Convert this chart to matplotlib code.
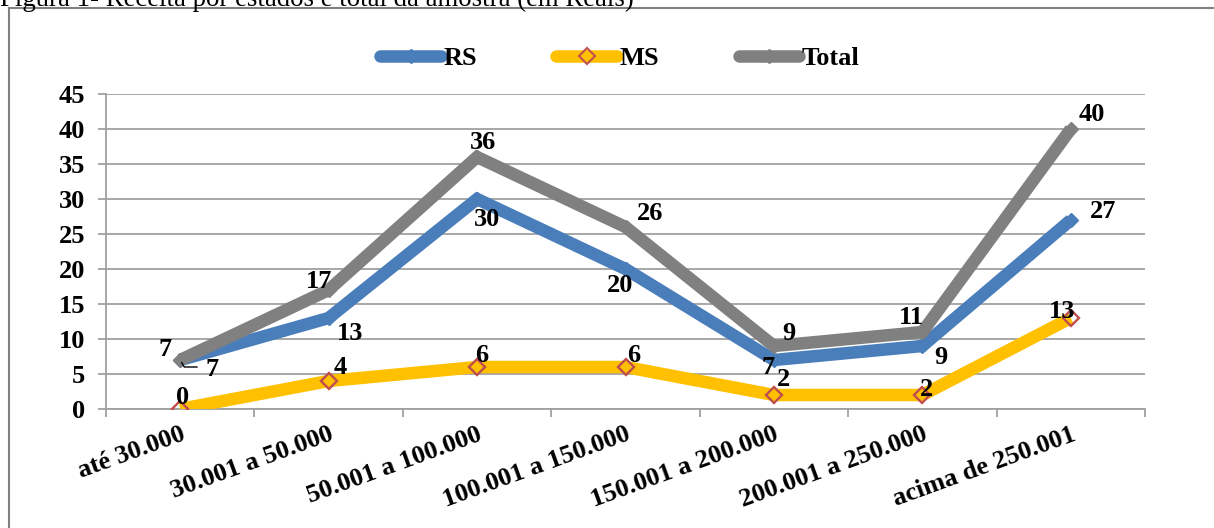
import matplotlib
matplotlib.use("Agg")
import matplotlib.pyplot as plt
from matplotlib.lines import Line2D

categories = ["até 30.000", "30.001 a 50.000", "50.001 a 100.000", "100.001 a 150.000",
              "150.001 a 200.000", "200.001 a 250.000", "acima de 250.001"]
rs = [7, 13, 30, 20, 7, 9, 27]
ms = [0, 4, 6, 6, 2, 2, 13]
total = [7, 17, 36, 26, 9, 11, 40]
yticks = [0, 5, 10, 15, 20, 25, 30, 35, 40, 45]
title = "Figura 1- Receita por estados e total da amostra (em Reais)"

# label offsets in pixels (layout only)
off_total = [(-15, 11), (-10, 8), (6, 15), (25, 14), (15, 13), (-11, 15), (21, 15)]
off_rs = [(32, -9), (21, -15), (10, -20), (-5, -16), (-6, -7), (19, -11), (32, 9)]
off_ms = [(2, 11), (12, 14), (5, 12), (8, 12), (10, 15), (4, 5), (-9, 6)]

plt.rcParams['font.family'] = ['Liberation Serif', 'DejaVu Serif']
W, H = 1214, 528
fig = plt.figure(figsize=(W / 100, H / 100), dpi=100)
ax = fig.add_axes([106 / W, 1 - 409 / H, (1145 - 106) / W, (409 - 94) / H])

BLUE = '#4A7EBB'
YELLOW = '#FFC000'
GRAY = '#808080'
x = list(range(len(categories)))
lw = 9

ax.plot(x, rs, color=BLUE, lw=lw, marker='D', ms=7, mfc=BLUE, mec=BLUE,
        solid_joinstyle='miter', solid_capstyle='butt', zorder=3, label='RS')
ax.plot(x, ms, color=YELLOW, lw=lw, marker='D', ms=8, mfc='none', mec='#C0504D', mew=1.5,
        solid_joinstyle='miter', solid_capstyle='butt', zorder=3, label='MS')
ax.plot(x, total, color=GRAY, lw=lw, marker='D', ms=7, mfc=GRAY, mec=GRAY,
        solid_joinstyle='miter', solid_capstyle='butt', zorder=4, label='Total')
# redraw MS markers on top of MS line
ax.plot(x, ms, ls='none', marker='D', ms=8, mfc='none', mec='#C0504D', mew=1.5, zorder=5)

fs = 19
for series, offs in ((total, off_total), (rs, off_rs), (ms, off_ms)):
    for xi, v, (dx, dy) in zip(x, series, offs):
        ax.annotate(str(v), (xi, v), xytext=(dx, dy), textcoords='offset pixels',
                    ha='center', va='center', fontsize=fs, fontweight='bold',
                    color='black', zorder=6)
# leader line for first RS label
ax.annotate('', (0, rs[0]), xytext=(17, -7), textcoords='offset pixels',
            arrowprops=dict(arrowstyle='-', color='black', lw=1, shrinkA=0, shrinkB=2,
                            connectionstyle='angle,angleA=0,angleB=-60,rad=0'),
            zorder=6)

ax.set_xlim(-0.5, len(categories) - 0.5)
ax.set_ylim(0, 45)
ax.set_yticks(yticks)
ax.set_yticklabels([str(t) for t in yticks], fontsize=fs, fontweight='bold')
ax.grid(axis='y', color='#A0A0A0', lw=1.3, zorder=0)
ax.set_axisbelow(True)

ax.set_xticks([i - 0.5 for i in range(len(categories) + 1)])
ax.set_xticklabels([])
ax.set_xticks(x, minor=True)
ax.set_xticklabels(categories, minor=True, rotation=20, ha='right', va='top',
                   rotation_mode='anchor', fontsize=fs, fontweight='bold')
ax.tick_params(axis='x', which='minor', length=0, pad=10)
ax.tick_params(axis='x', which='major', length=6, width=1.3, color='#A0A0A0', direction='out')
ax.tick_params(axis='y', length=6, width=1.3, color='#A0A0A0', pad=9)

for s in ('top', 'right'):
    ax.spines[s].set_visible(False)
for s in ('left', 'bottom'):
    ax.spines[s].set_color('#A0A0A0')
    ax.spines[s].set_linewidth(1.3)

leg = fig.legend(handles=ax.get_lines()[:3], loc='center',
                 bbox_to_anchor=(620 / W, 1 - 58 / H), ncol=3, frameon=False,
                 prop={'size': 19, 'weight': 'bold'}, handlelength=2.3,
                 handletextpad=0.1, columnspacing=3.0)
for h in leg.legend_handles:
    h.set_solid_capstyle('round')

# outer frame
fig.add_artist(Line2D([9 / W, 1.0], [1 - 8 / H, 1 - 8 / H], transform=fig.transFigure,
                      color='#808080', lw=1.5))
fig.add_artist(Line2D([9 / W, 9 / W], [0, 1 - 8 / H], transform=fig.transFigure,
                      color='#808080', lw=1.5))
fig.text(0, 1 - 5.5 / H, title, fontsize=19.3, va='baseline', ha='left', color='black')

fig.savefig('out.png', dpi=100)
